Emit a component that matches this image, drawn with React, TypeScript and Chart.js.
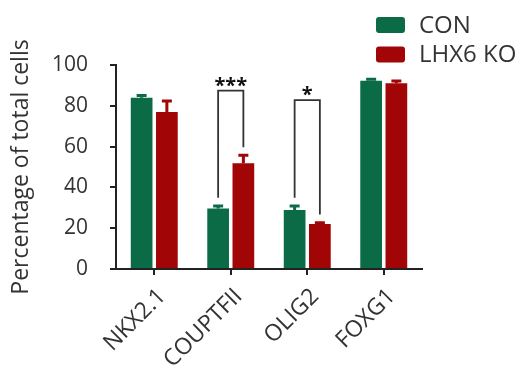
import React, { useEffect, useRef } from 'react';
import { Chart, registerables } from 'chart.js';

Chart.register(...registerables);

const categories = ['NKX2.1', 'COUPTFII', 'OLIG2', 'FOXG1'];
const seriesNames = ['CON', 'LHX6 KO'];
const conValues = [84, 29.7, 28.9, 92.3];
const conErrors = [1.5, 1.7, 2.5, 1.2];
const koValues = [77, 51.8, 22, 91];
const koErrors = [5.8, 4.4, 1.2, 1.6];
const bracketTops = [null, 87.4, 82.8, null];
const sigLabels = ['', '***', '*', ''];
const yTicks = [0, 20, 40, 60, 80, 100];

const GREEN = '#0b6b47';
const RED = '#a10505';
const TEXT = '#333333';
const FONT = "'Open Sans', 'DejaVu Sans', sans-serif";

const errors = [conErrors, koErrors];
const values = [conValues, koValues];

const errorBarPlugin = {
  id: 'errorBars',
  afterDatasetsDraw(chart: any) {
    const ctx = chart.ctx;
    const y = chart.scales.y;
    chart.data.datasets.forEach((ds: any, i: number) => {
      const meta = chart.getDatasetMeta(i);
      meta.data.forEach((bar: any, j: number) => {
        const top = y.getPixelForValue(values[i][j] + errors[i][j]);
        ctx.save();
        ctx.strokeStyle = ds.backgroundColor;
        ctx.lineWidth = 3;
        ctx.beginPath();
        ctx.moveTo(bar.x, bar.y);
        ctx.lineTo(bar.x, top);
        ctx.moveTo(bar.x - 5, top + 1);
        ctx.lineTo(bar.x + 5, top + 1);
        ctx.stroke();
        ctx.restore();
      });
    });
  },
};

const bracketPlugin = {
  id: 'brackets',
  afterDatasetsDraw(chart: any) {
    const ctx = chart.ctx;
    const y = chart.scales.y;
    const m0 = chart.getDatasetMeta(0);
    const m1 = chart.getDatasetMeta(1);
    bracketTops.forEach((lvl, j) => {
      if (lvl == null) return;
      const x0 = m0.data[j].x;
      const x1 = m1.data[j].x;
      const yTop = y.getPixelForValue(lvl);
      const yL = y.getPixelForValue(conValues[j] + conErrors[j] + 3.5);
      const yR = y.getPixelForValue(koValues[j] + koErrors[j] + 3.5);
      ctx.save();
      ctx.strokeStyle = TEXT;
      ctx.lineWidth = 1.8;
      ctx.beginPath();
      ctx.moveTo(x0, yL);
      ctx.lineTo(x0, yTop);
      ctx.lineTo(x1, yTop);
      ctx.lineTo(x1, yR);
      ctx.stroke();
      ctx.fillStyle = '#111';
      ctx.font = `bold 20px ${FONT}`;
      ctx.textAlign = 'center';
      ctx.textBaseline = 'alphabetic';
      ctx.fillText(sigLabels[j], (x0 + x1) / 2, yTop + 1);
      ctx.restore();
    });
  },
};

const legendPlugin = {
  id: 'customLegend',
  afterDraw(chart: any) {
    const ctx = chart.ctx;
    const x0 = chart.chartArea.right - 46;
    const y0 = 17;
    chart.data.datasets.forEach((ds: any, i: number) => {
      const yy = y0 + i * 29.5;
      ctx.save();
      ctx.fillStyle = ds.backgroundColor;
      ctx.beginPath();
      (ctx as any).roundRect(x0, yy, 29, 16, 3);
      ctx.fill();
      ctx.fillStyle = TEXT;
      ctx.font = `24px ${FONT}`;
      ctx.textAlign = 'left';
      ctx.textBaseline = 'middle';
      ctx.fillText(ds.label, x0 + 43, yy + 9);
      ctx.restore();
    });
  },
};

export default function App() {
  const ref = useRef<HTMLCanvasElement | null>(null);
  useEffect(() => {
    if (!ref.current) return;
    const chart = new Chart(ref.current, {
      type: 'bar',
      data: {
        labels: categories,
        datasets: [
          { label: seriesNames[0], data: conValues, backgroundColor: GREEN, categoryPercentage: 0.66, barPercentage: 0.86 },
          { label: seriesNames[1], data: koValues, backgroundColor: RED, categoryPercentage: 0.66, barPercentage: 0.86 },
        ],
      },
      options: {
        animation: false,
        responsive: true,
        maintainAspectRatio: false,
        layout: { padding: { top: 65, right: 110, left: 0, bottom: 0 } },
        plugins: { legend: { display: false }, tooltip: { enabled: false } },
        scales: {
          x: {
            afterFit: (s: any) => { s.height = 100; },
            grid: { display: true, drawOnChartArea: false, drawTicks: true, tickLength: 6, offset: false, color: '#222', lineWidth: 2 },
            border: { display: true, color: '#222', width: 2 },
            ticks: { autoSkip: false, maxRotation: 45, minRotation: 45, color: TEXT, font: { family: FONT, size: 23 }, padding: 8, labelOffset: 8 },
          },
          y: {
            min: 0,
            max: 100,
            afterFit: (s: any) => { s.width = 116; },
            afterBuildTicks: (s: any) => { s.ticks = yTicks.map((v) => ({ value: v })); },
            grid: { display: true, drawOnChartArea: false, drawTicks: true, tickLength: 6, color: '#222', lineWidth: 2 },
            border: { display: true, color: '#222', width: 2 },
            ticks: { color: TEXT, font: { family: FONT, size: 21 }, padding: 22 },
            title: { display: true, text: 'Percentage of total cells', color: TEXT, font: { family: FONT, size: 23 }, padding: { top: 8, bottom: 0 } },
          },
        },
      },
      plugins: [errorBarPlugin, bracketPlugin, legendPlugin],
    });
    return () => chart.destroy();
  }, []);
  return (
    <div style={{ position: 'fixed', left: 0, top: 0, width: 532, height: 369, background: '#fff' }}>
      <canvas ref={ref} />
    </div>
  );
}
